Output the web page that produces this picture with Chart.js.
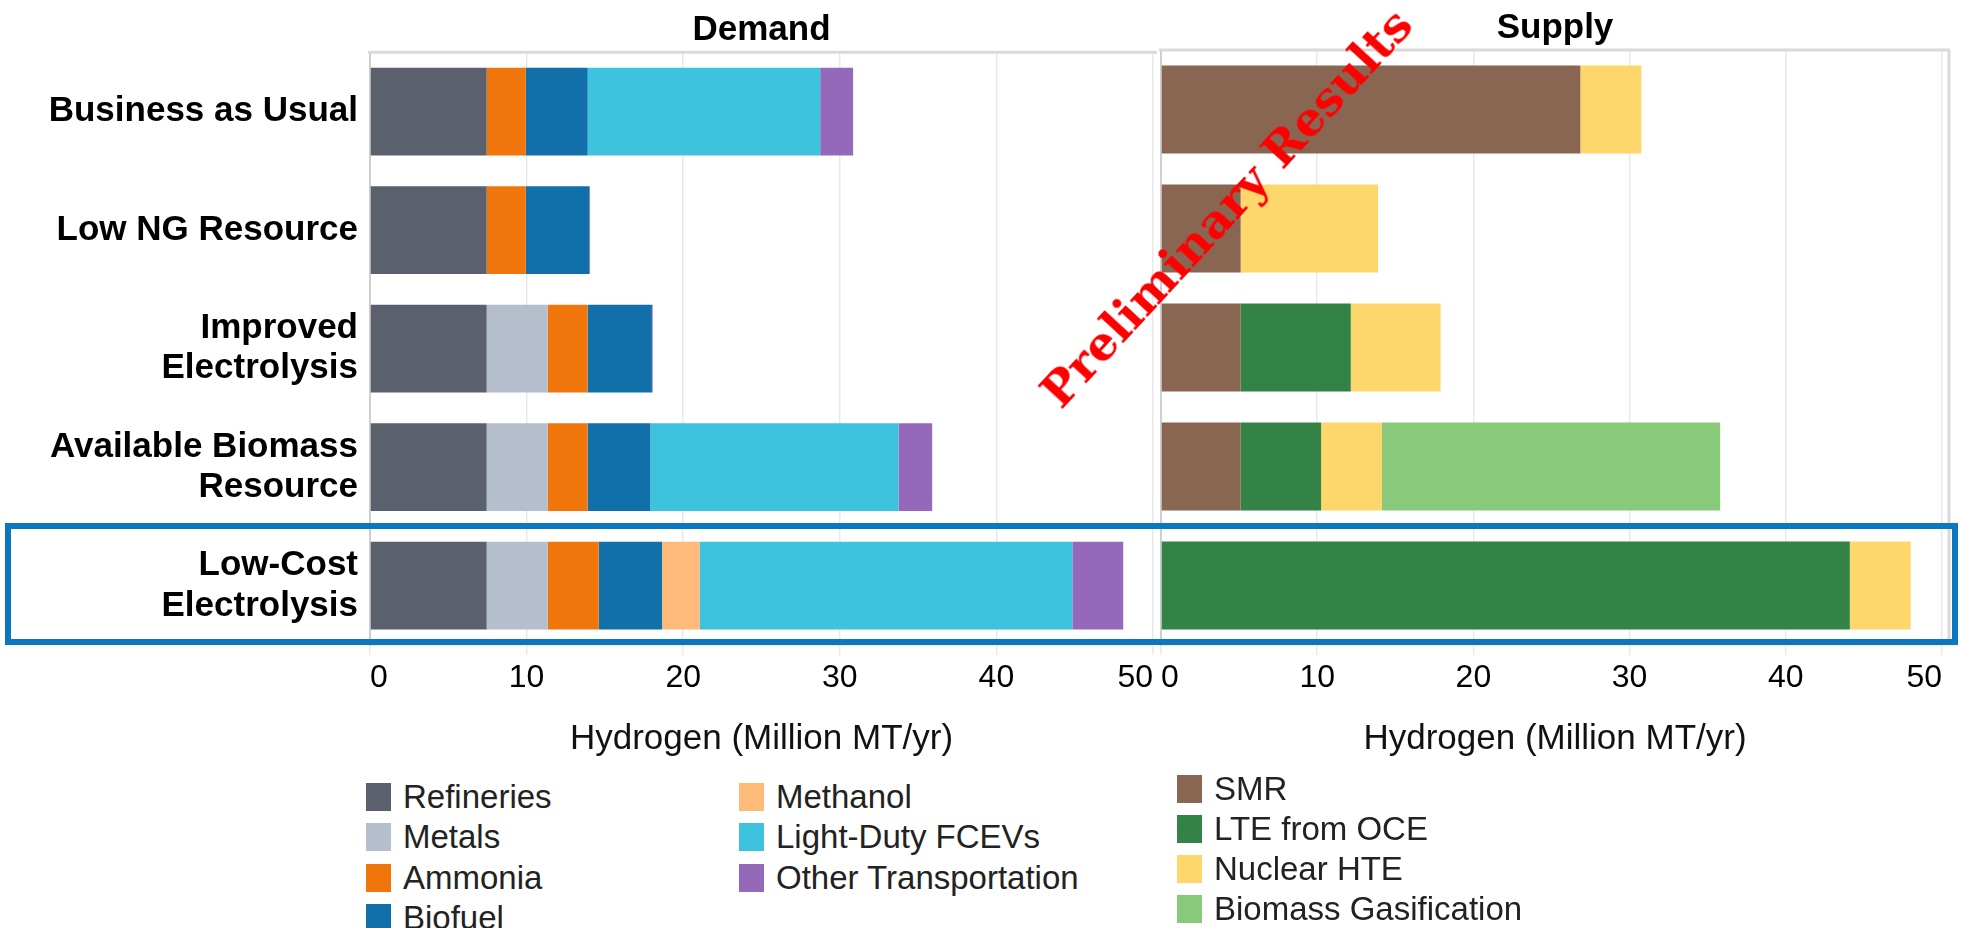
<!DOCTYPE html>
<html>
<head>
<meta charset="utf-8">
<script src="https://cdn.jsdelivr.net/npm/chart.js@4/dist/chart.umd.min.js"></script>
<style>
  html, body { margin:0; padding:0; background:#fff; }
  body { width:1963px; height:928px; position:relative; overflow:hidden; font-family:"Liberation Sans", Arial, sans-serif; }
  .cv { position:absolute; top:0; }
  #legend .item { position:absolute; display:flex; align-items:center; height:40px; font-size:33px; color:#222; white-space:nowrap; }
  #legend .sw { width:25px; height:28px; margin-right:12px; flex-shrink:0; }
  #stamp { position:absolute; font-family:"DejaVu Serif", serif; font-weight:bold; font-size:47px; color:#ff0000; white-space:nowrap; transform-origin:center; pointer-events:none; }
  #hl { position:absolute; border:6px solid #0b77c1; box-sizing:border-box; pointer-events:none; }
</style>
</head>
<body>
<div class="cv" style="left:0;width:1157px;height:770px;"><canvas id="chart-demand"></canvas></div>
<div class="cv" style="left:1157px;width:806px;height:770px;"><canvas id="chart-supply"></canvas></div>
<div id="hl"></div>
<div id="stamp">Preliminary Results</div>
<div id="legend"></div>
<script>
'use strict';

const categories = ['Business as Usual', 'Low NG Resource', ['Improved', 'Electrolysis'], ['Available Biomass', 'Resource'], ['Low-Cost', 'Electrolysis']];
const xTicks = [0, 10, 20, 30, 40, 50];

// demand (Million MT/yr)
const refineries = [7.45, 7.45, 7.45, 7.45, 7.45];
const metals = [0, 0, 3.9, 3.9, 3.9];
const ammonia = [2.5, 2.5, 2.55, 2.55, 3.25];
const biofuel = [3.95, 4.05, 4.1, 4.0, 4.05];
const methanol = [0, 0, 0, 0, 2.4];
const lightDutyFCEVs = [14.85, 0, 0, 15.85, 23.8];
const otherTransportation = [2.1, 0.05, 0.05, 2.15, 3.25];

// supply (Million MT/yr)
const smr = [26.85, 5.1, 5.1, 5.1, 0];
const lteFromOCE = [0, 0, 7.05, 5.15, 44.1];
const nuclearHTE = [3.9, 8.8, 5.75, 3.9, 3.9];
const biomassGasification = [0, 0, 0, 21.65, 0];

const demandSets = [
  { label: 'Refineries', data: refineries, backgroundColor: '#5a606c' },
  { label: 'Metals', data: metals, backgroundColor: '#b4becc' },
  { label: 'Ammonia', data: ammonia, backgroundColor: '#f0760c' },
  { label: 'Biofuel', data: biofuel, backgroundColor: '#1170a9' },
  { label: 'Methanol', data: methanol, backgroundColor: '#fdba78' },
  { label: 'Light-Duty FCEVs', data: lightDutyFCEVs, backgroundColor: '#3ec3de' },
  { label: 'Other Transportation', data: otherTransportation, backgroundColor: '#9569ba' }
];
const supplySets = [
  { label: 'SMR', data: smr, backgroundColor: '#886652' },
  { label: 'LTE from OCE', data: lteFromOCE, backgroundColor: '#338346' },
  { label: 'Nuclear HTE', data: nuclearHTE, backgroundColor: '#fdd76b' },
  { label: 'Biomass Gasification', data: biomassGasification, backgroundColor: '#88ca7a' }
];

const FONT = '"Liberation Sans", Arial, sans-serif';

// top (and optional right) frame line of the plot area
const framePlugin = {
  id: 'frame',
  afterDraw(chart, args, opts) {
    const a = chart.chartArea, ctx = chart.ctx;
    ctx.save();
    ctx.strokeStyle = '#d9d9d9';
    ctx.lineWidth = 3;
    ctx.beginPath();
    ctx.moveTo(a.left - 2, a.top);
    ctx.lineTo(opts.right ? a.right + 1 : a.right + 4, a.top);
    if (opts.right) { ctx.moveTo(a.right, a.top); ctx.lineTo(a.right, a.bottom); }
    ctx.stroke();
    ctx.restore();
  }
};

function makeChart(id, sets, opt) {
  return new Chart(document.getElementById(id), {
    type: 'bar',
    data: { labels: categories, datasets: sets.map(s => Object.assign({ borderWidth: 0, barPercentage: 0.74, categoryPercentage: 1 }, s)) },
    plugins: [framePlugin],
    options: {
      indexAxis: 'y',
      responsive: true,
      maintainAspectRatio: false,
      animation: false,
      layout: { padding: { left: 0, right: opt.padRight, top: 0, bottom: 0 } },
      plugins: {
        legend: { display: false },
        tooltip: { enabled: false },
        frame: { right: opt.frameRight },
        title: { display: true, fullSize: false, text: opt.title, color: '#000', font: { family: FONT, size: 35, weight: 'bold' }, padding: { top: 7, bottom: 1 } }
      },
      scales: {
        x: {
          stacked: true, min: 0, max: opt.max,
          afterBuildTicks: s => { s.ticks = xTicks.map(v => ({ value: v })); },
          afterFit: s => { s.height = 125; },
          grid: { color: '#e9e9e9', lineWidth: 1.5, tickLength: 10, drawTicks: true },
          border: { display: true, color: '#eeeeee', width: 1 },
          ticks: { color: '#000', align: 'inner', padding: 4, font: { family: FONT, size: 32 } },
          title: { display: true, text: 'Hydrogen (Million MT/yr)', color: '#111', font: { family: FONT, size: 35 }, padding: { top: 0, bottom: 10 } }
        },
        y: {
          stacked: true,
          afterFit: s => { s.width = opt.yWidth; },
          grid: { display: false, drawTicks: false },
          border: { display: true, color: '#cfcfcf', width: 2 },
          ticks: { display: opt.showLabels, color: '#000', padding: 12, font: { family: FONT, size: 35, weight: 'bold', lineHeight: 1.15 } }
        }
      }
    }
  });
}

const chartDemand = makeChart('chart-demand', demandSets, { title: 'Demand', max: 50, padRight: 3, yWidth: 370, showLabels: true, frameRight: false });
const chartSupply = makeChart('chart-supply', supplySets, { title: 'Supply', max: 50.45, padRight: 14, yWidth: 4, showLabels: false, frameRight: true });

// highlight box round the Low-Cost Electrolysis row
(function () {
  const ys = chartDemand.scales.y;
  const c = ys.getPixelForValue(4);
  const half = (ys.getPixelForValue(4) - ys.getPixelForValue(3)) / 2;
  const hl = document.getElementById('hl');
  hl.style.left = '5px';
  hl.style.width = '1953px';
  hl.style.top = (c - half - 3) + 'px';
  hl.style.height = (2 * half + 3) + 'px';
})();

// watermark
(function () {
  const st = document.getElementById('stamp');
  const w = st.offsetWidth, h = st.offsetHeight;
  st.style.left = (1226 - w / 2) + 'px';
  st.style.top = (207 - h / 2) + 'px';
  st.style.transform = 'rotate(-47.3deg)';
})();

// legend: demand in two columns, supply in a third
function addLegendItem(set, left, top) {
  const el = document.createElement('div');
  el.className = 'item';
  el.style.left = left + 'px';
  el.style.top = top + 'px';
  el.innerHTML = `<span class="sw" style="background:${set.backgroundColor}"></span><span>${set.label}</span>`;
  document.getElementById('legend').appendChild(el);
}
demandSets.forEach((s, i) => {
  if (i < 4) addLegendItem(s, 366, 777 + i * 40.3);
  else addLegendItem(s, 739, 777 + (i - 4) * 40.3);
});
supplySets.forEach((s, i) => addLegendItem(s, 1177, 769 + i * 40));
</script>
</body>
</html>
